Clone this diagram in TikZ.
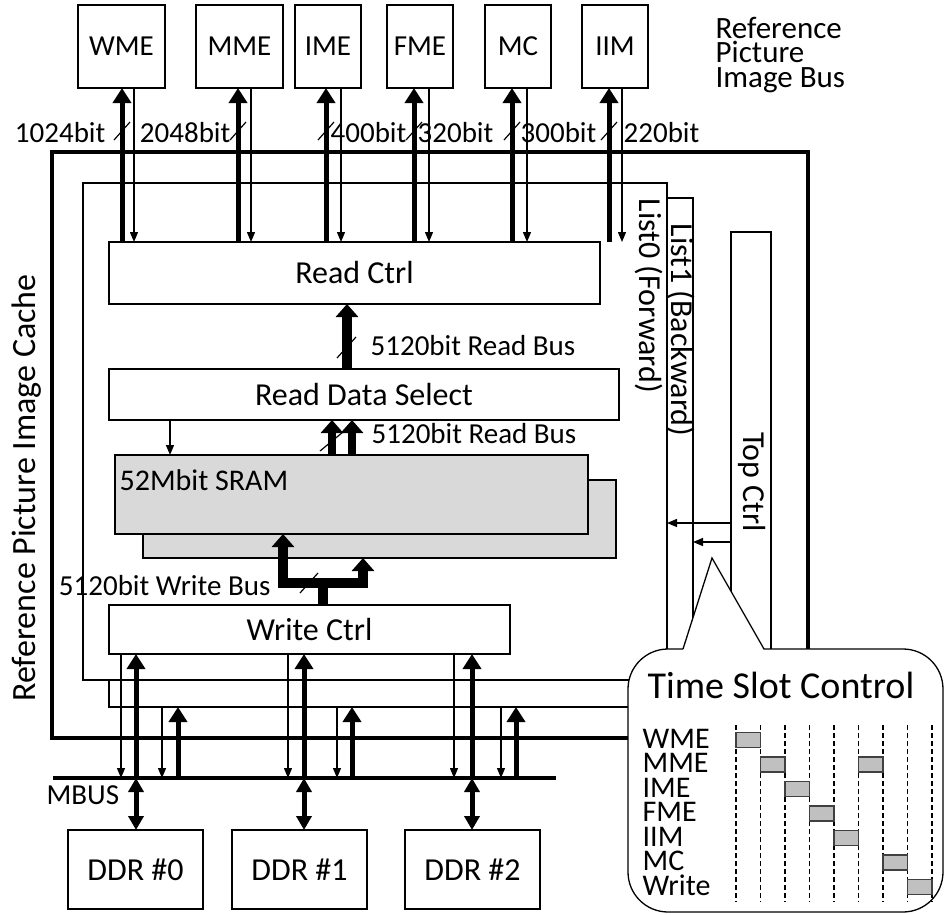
\documentclass[tikz,border=0pt]{standalone}
\usepackage{fontspec}
\setmainfont{Carlito}
\usetikzlibrary{arrows.meta, calc, positioning}
\definecolor{sramgray}{RGB}{217,217,217}
\definecolor{slotgray}{RGB}{192,192,192}

\begin{document}
\begin{tikzpicture}[
        x=1pt, y=-1pt,
        font=\fontsize{32}{34}\selectfont,
        line width=1.3pt,
        box/.style={
            draw, rectangle, fill=white,
            inner sep=0pt, outer sep=0pt,
            anchor=north west
        },
        bitlbl/.style={
            inner sep=0pt,
            font=\fontsize{29}{31}\selectfont
        },
        fatarrow/.style={-{Triangle[width=18pt,length=15pt]}, line width=5pt},
        narrowarrow/.style={-{Triangle[width=8pt,length=10pt]}, line width=1.3pt},
        busarrow/.style={-{Triangle[width=22pt,length=13pt]}, line width=10pt},
        twinarrow/.style={-{Triangle[width=22pt,length=13pt]}, line width=8pt},
        duplex/.style={{Triangle[width=15pt,length=14pt]}-{Triangle[width=15pt,length=14pt]}, line width=5pt},
        slashmark/.style={line width=1.2pt},
        slotline/.style={dash pattern=on 5pt off 3pt, line width=1.2pt},
        slotbar/.style={draw=black!75, fill=slotgray, line width=1.2pt},
    ]
    \useasboundingbox (0,0) rectangle (946,914);

    %============================================================
    % Cache frame and list frames
    %============================================================
    \node[box, line width=4pt, minimum width=756pt, minimum height=586pt] (CACHE) at (52,152) {};
    \node[rotate=90, anchor=base, inner sep=0pt, font=\fontsize{34}{36}\selectfont] (cachelbl) at (35,488) {Reference Picture Image Cache};

    \node[box, minimum width=584pt, minimum height=509pt] (L1) at (109,198) {};
    \node[box, minimum width=584pt, minimum height=497pt] (L0) at (83,183) {};
    \node[rotate=-90, anchor=base, inner sep=0pt] (l0lbl) at (639,296) {List0 (Forward)};
    \node[rotate=-90, anchor=base, inner sep=0pt] (l1lbl) at (671,330) {List1 (Backward)};

    % Top Ctrl
    \node[box, minimum width=40pt, minimum height=540pt] (TOP) at (731,232) {};
    \node[rotate=-90, anchor=base, inner sep=0pt] (toplbl) at (743,482) {Top Ctrl};
    \draw[narrowarrow] (TOP.west |- 0,523) -- (L0.east |- 0,523);
    \draw[narrowarrow] (TOP.west |- 0,542) -- (L1.east |- 0,542);

    %============================================================
    % Inner blocks
    %============================================================
    \node[box, minimum width=491pt, minimum height=62pt] (RC) at (109,242) {Read Ctrl};
    \node[box, minimum width=510pt, minimum height=51pt] (RDS) at (109,369) {Read Data Select};
    \node[box, fill=sramgray, minimum width=473pt, minimum height=78pt] (SRAMB) at (143,480) {};
    \node[box, fill=sramgray, minimum width=473pt, minimum height=79pt] (SRAM) at (115,455) {};
    \node[anchor=base west, inner sep=0pt, font=\fontsize{30}{32}\selectfont] (sramlbl) at (119,490) {52Mbit SRAM};
    \node[box, minimum width=401pt, minimum height=49pt] (WC) at (109,605) {Write Ctrl};

    % Read bus: Read Data Select -> Read Ctrl
    \draw[busarrow] (347,0 |- RDS.north) -- (347,0 |- RC.south);
    \draw[slashmark] (337,358) -- (356,337);
    \node[bitlbl, anchor=base west] (rbus1) at (370,355) {5120bit Read Bus};

    % Read bus: SRAM -> Read Data Select
    \foreach \xa in {332,352}
        \draw[twinarrow] (\xa,0 |- SRAM.north) -- (\xa,0 |- RDS.south);
    \draw[slashmark] (320,451) -- (343,432);
    \node[bitlbl, anchor=base west] (rbus2) at (371,443) {5120bit Read Bus};
    \draw[narrowarrow] (170,0 |- RDS.south) -- (170,0 |- SRAM.north);

    % Write bus: Write Ctrl -> both SRAM banks
    \coordinate (wjoin) at (323,583);
    \draw[line width=10pt] (323,0 |- WC.north) -- (wjoin);
    \draw[busarrow] (wjoin) -| (283,0 |- SRAM.south);
    \draw[busarrow] (wjoin) -| (363,0 |- SRAMB.south);
    \draw[slashmark] (300,593) -- (318,573);
    \node[bitlbl, anchor=base east] (wbus) at (271,595) {5120bit Write Bus};

    %============================================================
    % Client units on top
    %============================================================
    \foreach \n/\xl/\w in {WME/78/87, MME/196/87, IME/295/66, FME/387/66, MC/485/66, IIM/582/66}
        \node[box, minimum width=\w pt, minimum height=83pt, font=\fontsize{29}{31}\selectfont] (\n) at (\xl,5) {\n};

    \foreach \n/\xa/\xb in {WME/122/134, MME/238/251, IME/326/341, FME/414/429, MC/512/527, IIM/609/622}{
        \draw[fatarrow] (\xa,0 |- RC.north) -- (\xa,0 |- \n.south);
        \draw[narrowarrow] (\xb,0 |- \n.south) -- (\xb,0 |- RC.north);
    }

    \foreach \xa/\xt/\side/\bits in {122/106/east/1024, 238/231/east/2048, 326/330/west/400, 414/417/west/320, 512/520/west/300, 609/623/west/220}{
        \draw[slashmark] ({\xa-8},140) -- ({\xa+8},122);
        \node[bitlbl, anchor=base \side] (bw\bits) at (\xt,142) {\bits bit};
    }

    \node[anchor=base west, align=left, inner sep=0pt, font=\fontsize{31}{24.5}\selectfont] (buslbl) at (715,87) {Reference\\Picture\\Image Bus};

    %============================================================
    % MBUS and DDR
    %============================================================
    \coordinate (mbusL) at (53,778);
    \coordinate (mbusR) at (556,778);
    \draw[line width=4pt] (mbusL) -- (mbusR);
    \node[bitlbl, anchor=base west] (mbuslbl) at (46,804) {MBUS};

    \foreach \i/\xl in {0/68, 1/232, 2/405}
        \node[box, minimum width=135pt, minimum height=79pt] (DDR\i) at (\xl,830) {DDR \#\i};

    \foreach \i/\xa/\xb/\xc/\xd in {0/121/136/162/178, 1/288/304/337/352, 2/454/472/501/516}{
        \draw[narrowarrow] (\xa,0 |- WC.south) -- (\xa,0 |- mbusL);
        \draw[fatarrow] (\xb,0 |- mbusL) -- (\xb,0 |- WC.south);
        \draw[narrowarrow] (\xc,0 |- L1.south) -- (\xc,0 |- mbusL);
        \draw[fatarrow] (\xd,0 |- mbusL) -- (\xd,0 |- L1.south);
        \draw[duplex] (\xb,0 |- mbusL) -- (\xb,0 |- DDR\i.north);
    }

    %============================================================
    % Time slot callout
    %============================================================
    \node[box, rounded corners=40pt, minimum width=315pt, minimum height=263pt] (TSC) at (628,649) {};
    \coordinate (tip) at (712,558);
    \fill[white] ($(TSC.north west)+(55,1.5)$) -- (tip) -- ($(TSC.north west)+(136,1.5)$) -- cycle;
    \draw ($(TSC.north west)+(55,0)$) -- (tip) -- ($(TSC.north west)+(136,0)$);

    \node[anchor=base west, inner sep=0pt, font=\fontsize{38}{40}\selectfont] (tsctitle) at (647,698) {Time Slot Control};

    \foreach \k in {0,...,8}
        \draw[slotline] ({736+24.5*\k},725) -- ({736+24.5*\k},902);

    \foreach \u [count=\r from 0] in {WME,MME,IME,FME,IIM,MC,Write}
        \node[anchor=base west, inner sep=0pt, font=\fontsize{30}{32}\selectfont] (row\r) at (642,{748+24.5*\r}) {\u};

    \foreach \r/\s in {0/0, 1/1, 1/5, 2/2, 3/3, 4/4, 5/6, 6/7}
        \draw[slotbar] ({736+24.5*\s},{732.5+24.5*\r}) rectangle ++(24.5,15);

\end{tikzpicture}
\end{document}
